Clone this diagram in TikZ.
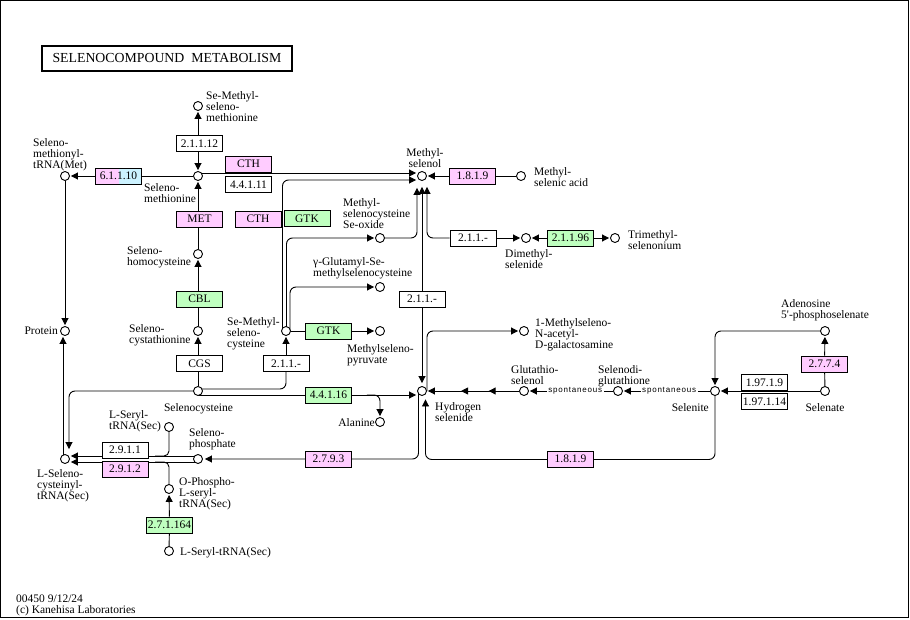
\documentclass[tikz,border=0pt]{standalone}
\usepackage{fontspec}
\setmainfont{Liberation Serif}
\newfontfamily\spontfont[LetterSpace=10]{Liberation Sans}
\usetikzlibrary{arrows.meta,calc,decorations.markings}
\pgfdeclarelayer{bg}
\pgfsetlayers{bg,main}
\definecolor{kpink}{HTML}{FFCCFF}
\definecolor{kgreen}{HTML}{BFFFBF}
\definecolor{kblue}{HTML}{CCF2FF}
\begin{document}
\begin{tikzpicture}[x=1pt,y=-1pt,>={Triangle[length=7pt,width=7pt]},
  ln/.style={line width=0.9pt},
  arr/.style={ln,->,shorten >=1pt},
  barr/.style={ln,<->,shorten >=1pt,shorten <=1pt},
  rc/.style={rounded corners=6pt},
  cpd/.style={circle,draw,fill=white,line width=0.9pt,minimum size=9pt,inner sep=0pt},
  enz/.style={rectangle,draw,fill=white,line width=0.9pt,minimum width=46pt,minimum height=16pt,inner sep=0pt,font=\fontsize{11.5}{11}\selectfont},
  pinkenz/.style={enz,fill=kpink},
  greenenz/.style={enz,fill=kgreen},
  lbl/.style={inner sep=0pt,font=\fontsize{11.5}{11}\selectfont,execute at begin node=\strut},
  lw/.style={lbl,anchor=north west,align=left},
  le/.style={lbl,anchor=north east,align=right},
  lc/.style={lbl,anchor=north,align=center},
  spont/.style={fill=white,inner sep=1.5pt,font=\spontfont\fontsize{8}{9}\selectfont}
]
\useasboundingbox (0,0) rectangle (910,620);
\draw[line width=1pt] (0.5,0.5) rectangle (908.5,617.5);

% title
\node[draw,line width=2pt,minimum width=250pt,minimum height=25pt,inner sep=0pt,font=\fontsize{13.8}{14}\selectfont] (title) at (167,58.5) {SELENOCOMPOUND\ \ METABOLISM};

% compounds
\node[cpd] (sesms) at (198,106) {};
\node[cpd] (semet) at (198,176) {};
\node[cpd] (semettrna) at (65,176) {};
\node[cpd] (sehcy) at (198,254) {};
\node[cpd] (secysth) at (198,331) {};
\node[cpd] (secys) at (198,391) {};
\node[cpd] (protein) at (65,331) {};
\node[cpd] (semecys) at (286,331) {};
\node[cpd] (mesel) at (422,176) {};
\node[cpd] (mesa) at (521,176) {};
\node[cpd] (seoxide) at (380,238) {};
\node[cpd] (dmse) at (526,238) {};
\node[cpd] (tmse) at (615,238) {};
\node[cpd] (gglu) at (380,287) {};
\node[cpd] (mspyr) at (380,331) {};
\node[cpd] (nacgal) at (524,331) {};
\node[cpd] (h2se) at (422,391) {};
\node[cpd] (ala) at (380,422) {};
\node[cpd] (gsse) at (524,391) {};
\node[cpd] (gssg) at (618,391) {};
\node[cpd] (selenite) at (715,391) {};
\node[cpd] (aps) at (825,331) {};
\node[cpd] (selenate) at (825,391) {};
\node[cpd] (sertrnaA) at (169,427) {};
\node[cpd] (sephos) at (198,459) {};
\node[cpd] (lsec) at (65,459) {};
\node[cpd] (ophos) at (169,489) {};
\node[cpd] (sertrnaB) at (169,551) {};

% enzymes
\node[enz] (e21112) at (199.5,143.5) {2.1.1.12};
\node[pinkenz] (cth1) at (248.5,164) {CTH};
\node[enz] (e44111) at (248.5,184.5) {4.4.1.11};
\node[enz,path picture={
  \fill[kpink] (path picture bounding box.south west) rectangle (path picture bounding box.north);
  \fill[kblue] (path picture bounding box.north) rectangle (path picture bounding box.south east);}] (e61110) at (118.5,176) {6.1.1.10};
\node[pinkenz] (met) at (199.5,219) {MET};
\node[pinkenz] (cth2) at (258,219) {CTH};
\node[greenenz] (gtk1) at (307,218.5) {GTK};
\node[greenenz] (cbl) at (199.5,299) {CBL};
\node[enz] (cgs) at (199.5,363.5) {CGS};
\node[enz] (e211a) at (286,363.5) {2.1.1.-};
\node[greenenz] (gtk2) at (328.5,331) {GTK};
\node[greenenz] (e44116) at (328.5,395) {4.4.1.16};
\node[pinkenz] (e2793) at (328.5,459) {2.7.9.3};
\node[enz] (e2911) at (125,450) {2.9.1.1};
\node[pinkenz] (e2912) at (125,469) {2.9.1.2};
\node[greenenz] (e271164) at (169.5,525) {2.7.1.164};
\node[enz] (e211b) at (422,299) {2.1.1.-};
\node[pinkenz] (e1819a) at (472.5,176) {1.8.1.9};
\node[enz] (e211c) at (473,238) {2.1.1.-};
\node[greenenz] (e21196) at (570.5,238) {2.1.1.96};
\node[pinkenz] (e2774) at (824.5,364) {2.7.7.4};
\node[enz] (e19719) at (764.5,382.5) {1.97.1.9};
\node[enz] (e197114) at (764.5,401.5) {1.97.1.14};
\node[pinkenz] (e1819b) at (570.5,459) {1.8.1.9};

% labels
\node[lw] (l1) at (206,91) {Se-Methyl-\\seleno-\\methionine};
\node[lw] (l2) at (33,138) {Seleno-\\methionyl-\\tRNA(Met)};
\node[lw] (l3) at (144,183) {Seleno-\\methionine};
\node[lw] (l4) at (127,246) {Seleno-\\homocysteine};
\node[lw] (l5) at (129,324) {Seleno-\\cystathionine};
\node[le] (l6) at (58,327) {Protein};
\node[lw] (l7) at (227,317) {Se-Methyl-\\seleno-\\cysteine};
\node[lc] (l8) at (198.5,403) {Selenocysteine};
\node[lw] (l9) at (109,410) {L-Seryl-\\tRNA(Sec)};
\node[lw] (l10) at (189,428) {Seleno-\\phosphate};
\node[lw] (l11) at (37,469) {L-Seleno-\\cysteinyl-\\tRNA(Sec)};
\node[lw] (l12) at (179,477) {O-Phospho-\\L-seryl-\\tRNA(Sec)};
\node[lw] (l13) at (180,547) {L-Seryl-tRNA(Sec)};
\node[lw] (l14) at (16,595) {00450 9/12/24\\(c) Kanehisa Laboratories};
\node[lc] (l15) at (425,148) {Methyl-\\selenol};
\node[lw] (l16) at (534,167) {Methyl-\\selenic acid};
\node[lw] (l17) at (343,198) {Methyl-\\selenocysteine\\Se-oxide};
\node[lw] (l18) at (313,257) {γ-Glutamyl-Se-\\methylselenocysteine};
\node[lw] (l19) at (347,344) {Methylseleno-\\pyruvate};
\node[le] (l20) at (375,418) {Alanine};
\node[lw] (l21) at (435,402) {Hydrogen\\selenide};
\node[lw] (l22) at (535,318) {1-Methylseleno-\\N-acetyl-\\D-galactosamine};
\node[lw] (l23) at (511,365) {Glutathio-\\selenol};
\node[lw] (l24) at (598,365) {Selenodi-\\glutathione};
\node[le] (l25) at (709,403) {Selenite};
\node[lw] (l26) at (781,299) {Adenosine\\5\textquotesingle-phosphoselenate};
\node[lc] (l27) at (825,403) {Selenate};
\node[lw] (l28) at (505,249) {Dimethyl-\\selenide};
\node[lw] (l29) at (628,230) {Trimethyl-\\selenonium};

% connectors
\begin{pgfonlayer}{bg}
\draw[barr] (sesms) -- (semet);
\draw[arr] (sehcy) -- (semet);
\draw[arr] (secysth) -- (sehcy);
\draw[arr] (secys) -- (secysth);
\draw[arr] (semet) -- (semettrna);
\draw[arr] (semettrna) -- (protein);
\draw[arr] ([xshift=-2pt]lsec.center) -- ([xshift=-2pt]protein.south);
\draw[arr,rc] (secys.center) -| ($(lsec.north)+(4,-4)$);
\draw[ln,rc] ([yshift=2pt]secys.center) -| (e211a.south);
\draw[arr] (e211a.north) -- (semecys.south);
\draw[arr] ([yshift=-4pt]secys.center) -- ([yshift=-4pt]h2se.west);
\draw[arr,rc] ($(e44116.east)+(15,0)$) -| (ala.north);
\draw[arr,rc] ([xshift=-3.5pt]semecys.center) |- ([yshift=-4pt]mesel.west);
\draw[arr,rc] ([xshift=0.5pt]semecys.center) |- (seoxide.west);
\draw[arr,rc] ([xshift=4pt]semecys.center) |- (gglu.west);
\draw[ln] (semecys) -- (gtk2);
\draw[arr] (gtk2) -- (mspyr);
\draw[arr] ([yshift=3pt]semet.center) -- ([yshift=3pt]mesel.west);
\draw[arr,rc] (seoxide.east) -| ($(mesel.south)+(-5,6)$);
\draw[ln,<->] ($(mesel.south)+(0,6)$) -- ($(h2se.north)+(0,-3)$);
\draw[ln,<-,rc] ($(mesel.south)+(5,6)$) |- (e211c.west);
\draw[arr] (e211c) -- (dmse);
\draw[arr] (e21196) -- (dmse);
\draw[arr] (e21196) -- (tmse);
\draw[ln] (mesa) -- (e1819a);
\draw[arr] (e1819a) -- (mesel);
\draw[arr,rc] ([xshift=5pt]h2se.center) |- (nacgal.west);
\draw[arr,postaction={decorate},decoration={markings,
  mark=at position 0.33 with {\arrow{>}},
  mark=at position 0.63 with {\arrow{>}}}] (gsse) -- (h2se);
\draw[arr] (gssg) -- node[spont,pos=0.45] (sp1) {spontaneous} (gsse);
\draw[arr] (selenite) -- node[spont,pos=0.47] (sp2) {spontaneous} (gssg);
\draw[arr] (selenate) -- (selenite);
\draw[ln] (selenate) -- (e2774);
\draw[arr] (e2774) -- (aps);
\draw[arr,rc] (aps.west) -| (selenite.north);
\draw[arr,rc] (selenite.center) |- ($(h2se.south)+(3.5,63.5)$) -- ($(h2se.south)+(3.5,2.5)$);
\draw[arr,rc,shorten >=2pt] ([xshift=-3.5pt]h2se.center) |- (sephos.east);
\draw[arr] ([yshift=3pt]sephos.center) -- ([yshift=3pt]lsec.east);
\draw[arr] ([yshift=-3pt]sephos.center) -- ([yshift=-3pt]lsec.east);
\draw[ln,rounded corners=5pt] (sertrnaA.center) |- ($(sertrnaA)+(-14,29)$);
\draw[ln,rounded corners=5pt] (ophos.center) |- ($(ophos)+(-14,-27)$);
\draw[ln] (sertrnaB) -- (e271164);
\draw[arr] (e271164) -- (ophos);
\end{pgfonlayer}
\end{tikzpicture}
\end{document}
